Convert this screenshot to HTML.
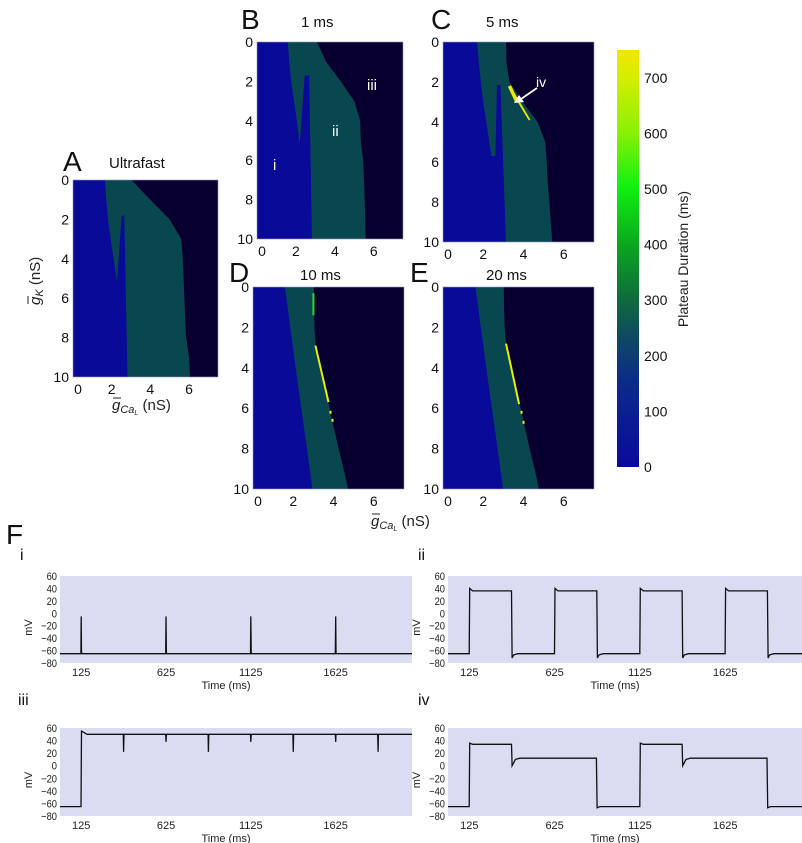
<!DOCTYPE html>
<html><head><meta charset="utf-8">
<style>
html,body{margin:0;padding:0;background:#fff;}
svg{display:block;font-family:"Liberation Sans",sans-serif;}
</style></head>
<body>
<svg id="fig" width="802" height="843" viewBox="0 0 802 843" xmlns="http://www.w3.org/2000/svg">
<defs>
<linearGradient id="cbgrad" x1="0" y1="1" x2="0" y2="0">
<stop offset="0" stop-color="#0a0a9c"/>
<stop offset="0.2" stop-color="#0c2a8a"/>
<stop offset="0.3" stop-color="#0e4566"/>
<stop offset="0.4" stop-color="#0f6a3c"/>
<stop offset="0.53" stop-color="#0aa61e"/>
<stop offset="0.67" stop-color="#10f010"/>
<stop offset="0.8" stop-color="#88f005"/>
<stop offset="0.93" stop-color="#d4ee00"/>
<stop offset="1" stop-color="#f2e600"/>
</linearGradient>
</defs>
<g id="heat"></g>
<g id="traces"></g>
</svg>
<script>
// ---------- Heatmap data (gCa boundary values at gK rows 0..10) ----------
const gKRows = [0,1,2,3,4,5,6,7,8,9,10];
const xTicks = [0,2,4,6];
const yTicks = [0,2,4,6,8,10];

const A_left  = [1.65,1.72,1.81,1.95,2.1,2.25,2.3,2.4,2.5,2.6,2.7];
const A_right = [3.03,4.0,5.0,5.6,5.68,5.72,5.76,5.8,5.85,6.0,6.05];
const A_notchGK = [1.8,5.1];
const A_notchGCa = [2.52,2.65,2.82,2.28];

const B_left  = [1.58,1.66,1.76,1.9,2.05,2.17,2.25,2.35,2.45,2.55,2.6];
const B_right = [3.08,3.55,4.3,5.0,5.3,5.33,5.45,5.5,5.53,5.56,5.58];
const B_notchGK = [1.7,5.1];
const B_notchGCa = [2.45,2.68,2.82,2.2];

const C_left  = [1.69,1.78,1.88,2.0,2.15,2.3,2.45,2.55,2.65,2.75,2.85];
const C_right = [3.13,3.15,3.3,3.95,4.7,5.08,5.15,5.2,5.28,5.35,5.43];
const C_notchGK = [2.15,5.7];
const C_notchGCa = [2.68,2.85,3.13,2.6];

const D_left  = [1.58,1.72,1.85,1.99,2.12,2.26,2.4,2.54,2.68,2.82,2.95];
const D_right = [3.03,3.03,3.05,3.12,3.3,3.55,3.8,4.02,4.25,4.5,4.72];

const E_left  = [1.61,1.75,1.88,2.02,2.15,2.29,2.43,2.57,2.71,2.85,2.98];
const E_right = [3.02,3.03,3.06,3.15,3.35,3.6,3.85,4.08,4.3,4.55,4.76];

// long-plateau streaks: [gCa0,gK0,gCa1,gK1]
const C_yellow = [3.35,2.3,4.3,3.9];
const C_yellowTop = [3.3,2.2,3.65,2.95];
const D_yellow = [3.1,2.9,3.75,5.7];
const D_green = [3.0,0.3,3.0,1.4];
const D_dots = [3.85,6.2,3.95,6.6];
const E_yellow = [3.13,2.8,3.78,5.8];
const E_dots = [3.9,6.2,4.0,6.7];

const cbTicks = [0,100,200,300,400,500,600,700];

// ---------- Trace data ----------
const tTicks = [125,625,1125,1625];
const vTicks = [60,40,20,0,-20,-40,-60,-80];
const i_t = [0,123,125,127,129,623,625,627,629,1123,1125,1127,1129,1623,1625,1627,1629,2075];
const i_v = [-65,-65,-5,-62,-65,-65,-5,-62,-65,-65,-5,-62,-65,-65,-5,-62,-65,-65];
const ii_t = [0,124,127,145,372,376,385,410,624,627,645,872,876,885,910,1124,1127,1145,1372,1376,1385,1410,1624,1627,1645,1872,1876,1885,1910,2075];
const ii_v = [-65,-65,40,36,36,-72,-67,-65,-65,40,36,36,-72,-67,-65,-65,40,36,36,-72,-67,-65,-65,40,36,36,-72,-67,-65,-65];
const iii_t = [0,124,127,160,373,375,377,623,625,627,873,875,877,1123,1125,1127,1373,1375,1377,1623,1625,1627,1873,1875,1877,2075];
const iii_v = [-65,-65,55,50,50,22,50,50,38,50,50,22,50,50,38,50,50,22,50,50,38,50,50,22,50,50];
const iv_t = [0,124,127,145,372,376,395,420,870,874,890,1124,1127,1145,1372,1376,1395,1420,1870,1874,1890,2075];
const iv_v = [-65,-65,36,34,34,0,10,12,12,-67,-65,-65,36,34,34,0,10,12,12,-67,-65,-65];

const NS = "http://www.w3.org/2000/svg";
const BLUE="#0a0a98", TEAL="#08474f", DARK="#07002f";
function mk(tag, attrs, parent, text){
  const e=document.createElementNS(NS,tag);
  for(const k in attrs) e.setAttribute(k,attrs[k]);
  if(text!==undefined) e.textContent=text;
  parent.appendChild(e); return e;
}
const heat=document.getElementById('heat');
const traces=document.getElementById('traces');
const fig=document.getElementById('fig');

function heatPanel(name, px, py, pw, ph, left, right, notchGK, notchGCa, extras){
  const g=mk('g',{},heat);
  
  
  const sx=v=>px+v*pw/7.5, sy=v=>py+v*ph/10;
  const cid='clip-'+name;
  const cp=mk('clipPath',{id:cid},g); mk('rect',{x:px,y:py,width:pw,height:ph},cp);
  const body=mk('g',{'clip-path':'url(#'+cid+')'},g);
  mk('rect',{x:px,y:py,width:pw,height:ph,fill:DARK},body);
  let pts=[[px,sy(0)]];
  gKRows.forEach((k,i)=>pts.push([sx(right[i]),sy(k)]));
  pts.push([px,sy(10)]);
  const teal=mk('polygon',{points:pts.map(p=>p.join(',')).join(' '),fill:TEAL},body);
  
  
  let bp=[[px,sy(0)]];
  gKRows.forEach((k,i)=>bp.push([sx(left[i]),sy(k)]));
  bp.push([px,sy(10)]);
  const blue=mk('polygon',{points:bp.map(p=>p.join(',')).join(' '),fill:BLUE},body);
  
  
  if(notchGK){
    const np=[[sx(notchGCa[0]),sy(notchGK[0])],[sx(notchGCa[1]),sy(notchGK[0])],[sx(notchGCa[2]),sy(10)],[px,sy(10)],[px,sy(notchGK[1])],[sx(notchGCa[3]),sy(notchGK[1])]];
    const n=mk('polygon',{points:np.map(p=>p.join(',')).join(' '),fill:BLUE},body);
    
    
  }
  (extras||[]).forEach(ex=>{
    const a=ex.d;
    if(ex.type==='line'){
      const l=mk('line',{x1:sx(a[0]),y1:sy(a[1]),x2:sx(a[2]),y2:sy(a[3]),stroke:ex.c,'stroke-width':ex.w},body);
      
      
    } else {
      for(let j=0;j<a.length;j+=2){
        const r=mk('rect',{x:sx(a[j])-1,y:sy(a[j+1])-1.5,width:2,height:3,fill:ex.c},body);
        
        
      }
    }
  });
  mk('rect',{x:px,y:py,width:pw,height:ph,fill:'none',stroke:'#8f92c8','stroke-width':0.6},g);
  yTicks.forEach(v=>{
    const t=mk('text',{x:px-4,y:sy(v)+5,'text-anchor':'end','font-size':14,fill:'#111'},g,String(v));
    
    
  });
  xTicks.forEach(v=>{
    const t=mk('text',{x:sx(v)+(v===0?5:0),y:py+ph+17,'text-anchor':'middle','font-size':14,fill:'#111'},g,String(v));
    
    
  });
  return {sx,sy};
}

heatPanel('panel-a',73,180,145,197,A_left,A_right,A_notchGK,A_notchGCa);
heatPanel('panel-b',257,42,146,197,B_left,B_right,B_notchGK,B_notchGCa);
heatPanel('panel-c',443,42,151,200,C_left,C_right,C_notchGK,C_notchGCa,[{type:'line',d:C_yellow,c:'#f0e800',w:1.8},{type:'line',d:C_yellowTop,c:'#f0e800',w:3.5}]);
heatPanel('panel-d',253,287,151,202,D_left,D_right,null,null,[{type:'line',d:D_yellow,c:'#e8f000',w:2},{type:'line',d:D_green,c:'#20e020',w:2},{type:'dots',d:D_dots,c:'#e8f000'}]);
heatPanel('panel-e',443,287,151,202,E_left,E_right,null,null,[{type:'line',d:E_yellow,c:'#e8f000',w:2},{type:'dots',d:E_dots,c:'#e8f000'}]);

function txt(x,y,s,size,name,extra){
  const a=Object.assign({x:x,y:y,'font-size':size,fill:'#111'},extra||{});
  const t=mk('text',a,fig,s);
  
  
  return t;
}
txt(63,171,'A',28,'panel-a-letter');
txt(109,168,'Ultrafast',15,'panel-a-title');
txt(241,29,'B',28,'panel-b-letter');
txt(301,27,'1 ms',15,'panel-b-title');
txt(431,29,'C',28,'panel-c-letter');
txt(486,27,'5 ms',15,'panel-c-title');
txt(229,282,'D',28,'panel-d-letter');
txt(300,280,'10 ms',15,'panel-d-title');
txt(410,282,'E',28,'panel-e-letter');
txt(486,280,'20 ms',15,'panel-e-title');
txt(273,170,'i',15,'region-i-label',{fill:'#fff'});
txt(332,136,'ii',15,'region-ii-label',{fill:'#fff'});
txt(367,90,'iii',15,'region-iii-label',{fill:'#fff'});
txt(536,87,'iv',14,'region-iv-label',{fill:'#fff'});
const arr=mk('g',{},fig);


mk('line',{x1:537,y1:88,x2:521,y2:99,stroke:'#fff','stroke-width':1.8},arr);
mk('polygon',{points:'514,103 519,95 524,102',fill:'#fff'},arr);

// axis titles (text-anchor start, manual overline over the g)
function gLabel(x,y,sub,subsub,name,rot){
  const g=mk('g',rot?{transform:'rotate(-90 '+x+' '+y+')'}:{},fig);
  
  
  const t=mk('text',{x:x,y:y,'font-size':15,fill:'#222'},g);
  mk('tspan',{'font-style':'italic'},t,'g');
  mk('tspan',{'font-style':'italic','font-size':11,dy:3},t,sub);
  if(subsub){ mk('tspan',{'font-style':'italic','font-size':7,dy:2},t,subsub); mk('tspan',{dy:-5},t,' (nS)'); }
  else mk('tspan',{dy:-3},t,' (nS)');
  mk('line',{x1:x+1,y1:y-12,x2:x+9,y2:y-12,stroke:'#222','stroke-width':1},g);
}
gLabel(112,410,'Ca','L','panel-a-x-axis-title',false);
gLabel(40,305,'K',null,'panel-a-y-axis-title',true);
gLabel(371,526,'Ca','L','shared-x-axis-title',false);

// colorbar
const cb=mk('g',{},fig);


const cbTop=50, cbBot=467, cbMax=750;
mk('rect',{x:617,y:cbTop,width:22,height:cbBot-cbTop,fill:'url(#cbgrad)'},cb);
cbTicks.forEach(v=>{
  const y=cbBot-v*(cbBot-cbTop)/cbMax;
  const t=mk('text',{x:644,y:y+5,'font-size':14,fill:'#111'},cb,String(v));
  
  
});
const cbt=mk('text',{x:688,y:259,'font-size':14,fill:'#222','text-anchor':'middle',transform:'rotate(-90 688 259)'},cb,'Plateau Duration (ms)');



// ---------- Traces ----------
txt(6,544,'F',28,'panel-f-letter');
function tracePanel(name, label, lx, ly, px, py, pw, ph, tArr, vArr){
  const g=mk('g',{},traces);
  
  
  const sx=t=>px+t*pw/2075, sy=v=>py+(60-v)*ph/140;
  const l=mk('text',{x:lx,y:ly,'font-size':16,fill:'#111'},g,label);
  
  
  const bg=mk('rect',{x:px,y:py,width:pw,height:ph,fill:'#dadcf2'},g);
  
  
  vTicks.forEach(v=>{
    const t=mk('text',{x:px-3,y:sy(v)+4,'text-anchor':'end','font-size':11,fill:'#222',transform:'translate('+(px-3)+' 0) scale(0.85 1) translate('+(-(px-3))+' 0)'},g,v<0?'\u2212'+(-v):String(v));
    
    
  });
  tTicks.forEach(v=>{
    const t=mk('text',{x:sx(v),y:py+ph+13,'text-anchor':'middle','font-size':11,fill:'#222'},g,String(v));
    
    
  });
  const xt=mk('text',{x:px+pw/2-10,y:py+ph+26,'text-anchor':'middle','font-size':11,fill:'#222'},g,'Time (ms)');
  
  
  const yx=px-28, yy=py+ph/2+8;
  const yt=mk('text',{x:yx,y:yy,'text-anchor':'middle','font-size':11,fill:'#222',transform:'rotate(-90 '+yx+' '+yy+')'},g,'mV');
  
  
  const d=tArr.map((t,i)=>(i?'L':'M')+sx(t).toFixed(1)+','+sy(vArr[i]).toFixed(1)).join(' ');
  const p=mk('path',{d:d,fill:'none',stroke:'#111','stroke-width':1.3},g);
  
  
}
tracePanel('trace-i','i',20,560,60,576,352,87,i_t,i_v);
tracePanel('trace-ii','ii',418,560,448,576,354,87,ii_t,ii_v);
tracePanel('trace-iii','iii',18,705,60,728,352,88,iii_t,iii_v);
tracePanel('trace-iv','iv',418,705,448,728,354,88,iv_t,iv_v);
</script>
</body></html>
